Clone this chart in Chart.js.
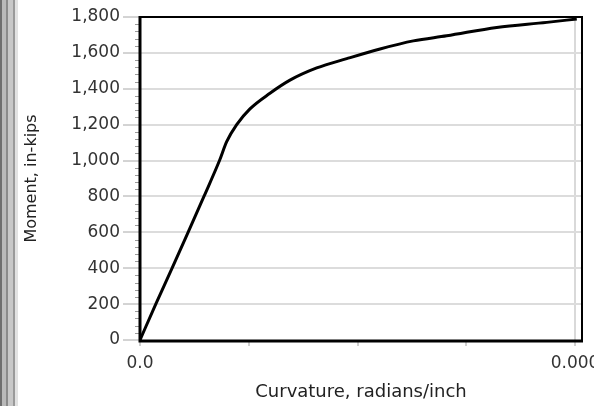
<!DOCTYPE html>
<html>
<head>
<meta charset="utf-8">
<script src="https://cdn.jsdelivr.net/npm/chart.js@4"></script>
<style>
  html, body { margin: 0; padding: 0; }
  body {
    width: 594px; height: 406px; overflow: hidden; position: relative;
    background: #fff;
  }
  #strip {
    position: absolute; left: 0; top: 0; width: 18px; height: 406px;
    background: linear-gradient(to right,
      #6e6e6e 0px, #6e6e6e 2px,
      #b9b9b9 2px, #b9b9b9 6px,
      #8a8a8a 6px, #8a8a8a 8px,
      #c8c8c8 8px, #c8c8c8 13px,
      #9a9a9a 13px, #9a9a9a 15px,
      #e2e2e2 15px, #e2e2e2 18px);
  }
  #wrap { position: absolute; left: 0; top: 0; width: 594px; height: 406px; }
</style>
</head>
<body>
<div id="strip"></div>
<div id="wrap"><canvas id="c" width="594" height="406"></canvas></div>
<script>
// Curvature (radians/inch)
const curvature = [0, 0.0000145, 0.0000295, 0.0000442, 0.0000588, 0.0000731, 0.0000797, 0.0000889,
  0.0001011, 0.0001195, 0.0001379, 0.0001625, 0.0001901, 0.0002207, 0.0002513, 0.000282,
  0.000328, 0.000374, 0.0004016];
// Moment (in-kips)
const moment = [0, 200, 400, 600, 800, 1000, 1105, 1200,
  1288, 1375, 1448, 1516, 1568, 1622, 1667, 1695,
  1742, 1770, 1789];
const xTickLabels = { 0: '0.0', 4: '0.000' };
const yTitle = 'Moment, in-kips';
const xTitle = 'Curvature, radians/inch';

const points = curvature.map((c, i) => ({ x: c, y: moment[i] }));
const FONT = 'DejaVu Sans, Verdana, sans-serif';

const framePlugin = {
  id: 'frame',
  afterDraw(chart) {
    const { ctx, chartArea: a, scales } = chart;
    ctx.save();
    // minor ticks on y axis
    ctx.strokeStyle = '#9a9a9a';
    ctx.lineWidth = 1;
    const ys = scales.y;
    for (let v = 0; v <= 1800; v += 40) {
      if (v % 200 === 0) continue;
      const py = Math.round(ys.getPixelForValue(v)) + 0.5;
      ctx.beginPath(); ctx.moveTo(a.left - 5, py); ctx.lineTo(a.left, py); ctx.stroke();
    }
    // frame
    ctx.strokeStyle = '#000';
    ctx.lineWidth = 2;
    ctx.beginPath();
    ctx.moveTo(a.left, a.top); ctx.lineTo(a.right, a.top); ctx.lineTo(a.right, a.bottom);
    ctx.stroke();
    ctx.lineWidth = 3;
    ctx.beginPath();
    ctx.moveTo(a.left, a.top - 1); ctx.lineTo(a.left, a.bottom + 1); ctx.lineTo(a.right + 1, a.bottom + 1);
    ctx.stroke();
    ctx.restore();
  }
};

new Chart(document.getElementById('c'), {
  type: 'scatter',
  data: {
    datasets: [{
      data: points,
      showLine: true,
      borderColor: '#000',
      borderWidth: 3,
      pointRadius: 0,
      cubicInterpolationMode: 'monotone',
      fill: false
    }]
  },
  options: {
    responsive: false,
    animation: false,
    events: [],
    plugins: { legend: { display: false }, tooltip: { enabled: false } },
    layout: { padding: { top: 17, right: 12, left: 22, bottom: 0 } },
    scales: {
      x: {
        type: 'linear',
        min: 0,
        max: 0.0004064,
        afterBuildTicks(scale) {
          scale.ticks = [0, 0.0001, 0.0002, 0.0003, 0.0004].map(v => ({ value: v }));
        },
        afterFit(scale) { scale.height = 66; scale.paddingLeft = 0; scale.paddingRight = 0; },
        border: { display: false },
        grid: {
          drawOnChartArea: true,
          color: (ctx) => ctx.index === 4 ? '#d9d9d9' : 'rgba(0,0,0,0)',
          tickColor: '#a0a0a0',
          tickLength: 6,
          lineWidth: 2,
          tickWidth: 1
        },
        ticks: {
          autoSkip: false,
          maxRotation: 0,
          padding: 7,
          color: '#333',
          font: { family: FONT, size: 17 },
          callback: (v, i) => xTickLabels[i] !== undefined ? xTickLabels[i] : ''
        },
        title: {
          display: true,
          text: xTitle,
          color: '#222',
          font: { family: FONT, size: 18 },
          padding: { top: 2, bottom: 3 }
        }
      },
      y: {
        min: 0,
        max: 1800,
        afterBuildTicks(scale) {
          const t = [];
          for (let v = 0; v <= 1800; v += 200) t.push({ value: v });
          scale.ticks = t;
        },
        afterFit(scale) { scale.width = 118; },
        border: { display: false },
        grid: {
          color: (ctx) => ctx.index === 0 ? 'rgba(0,0,0,0)' : '#dcdcdc',
          lineWidth: 2,
          tickColor: '#a8a8a8',
          tickLength: 17,
          tickWidth: 1
        },
        ticks: {
          padding: 3,
          color: '#333',
          font: { family: FONT, size: 17 },
          callback: (v) => v.toLocaleString('en-US')
        },
        title: {
          display: true,
          text: yTitle,
          color: '#222',
          font: { family: FONT, size: 16 },
          padding: { top: 0, bottom: 0 }
        }
      }
    }
  },
  plugins: [framePlugin]
});
</script>
</body>
</html>
